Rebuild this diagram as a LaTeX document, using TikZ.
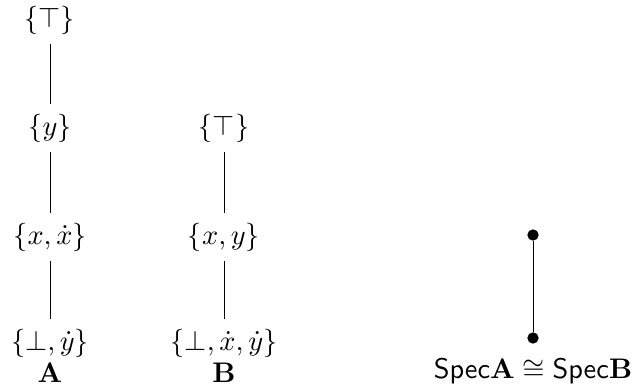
\documentclass[tikz,border=0pt]{standalone}
\usepackage{amsmath,amssymb}
\begin{document}
\begin{tikzpicture}[x=0.3528pt,y=-0.3528pt,
  elem/.style={inner sep=0.5pt},
  lbl/.style={inner sep=0pt},
  edge/.style={line width=0.35pt,shorten <=2.7pt,shorten >=2.7pt},
  sedge/.style={line width=0.35pt},
  pt/.style={circle,fill=black,inner sep=0pt,minimum size=4pt}]
\useasboundingbox (0,0) rectangle (634,391);
% column A
\node[elem] (a1) at (50,20) {$\{\top\}$};
\node[elem] (a2) at (50,128) {$\{y\}$};
\node[elem] (a3) at (50,237) {$\{x,\dot x\}$};
\node[elem] (a4) at (50,343) {$\{\bot,\dot y\}$};
\node[lbl] (la) at (50,373) {$\mathbf{A}$};
\draw[edge] (a1) -- (a2);
\draw[edge] (a2) -- (a3);
\draw[edge] (a3) -- (a4);
% column B
\node[elem] (b1) at (224,128) {$\{\top\}$};
\node[elem] (b2) at (224,237) {$\{x,y\}$};
\node[elem] (b3) at (224,343) {$\{\bot,\dot x,\dot y\}$};
\node[lbl] (lb) at (224,373) {$\mathbf{B}$};
\draw[edge] (b1) -- (b2);
\draw[edge] (b2) -- (b3);
% spectrum
\node[pt] (s1) at (533,235) {};
\node[pt] (s2) at (533,338) {};
\draw[sedge] (s1) -- (s2);
\node[lbl] (ls) at (533,371) {$\mathsf{Spec}\mathbf{A}\cong\mathsf{Spec}\mathbf{B}$};
\end{tikzpicture}
\end{document}
